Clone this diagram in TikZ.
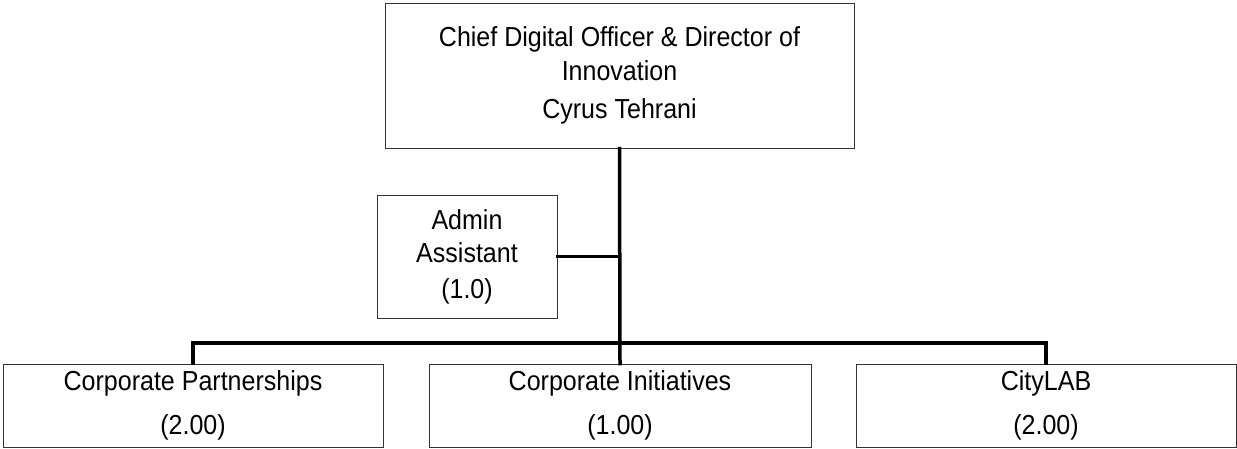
\documentclass[tikz,border=0pt]{standalone}
\usepackage{fontspec}
\setmainfont[FakeStretch=0.91]{Liberation Sans}
\usepackage{tikz}
\usetikzlibrary{calc}

\begin{document}
\begin{tikzpicture}[
		x=1pt, y=-1pt,
		box/.style = {rectangle, draw=black!80, line width=1pt, fill=white, align=center, inner sep=0pt, font=\fontsize{27.5}{33}\selectfont},
		link/.style = {line width=3.5pt, line cap=rect}
		]
		\useasboundingbox (0, 0) rectangle (1237, 448);
		
		%Nodes
		\node[box, minimum width=469, minimum height=145]	(cdo)	at	(619.5, 75.5)	{Chief Digital Officer \& Director of\\[1pt] Innovation\\[5pt] Cyrus Tehrani};
		\node[box, minimum width=180, minimum height=123]	(admin)	at	(467, 256.5)	{Admin\\ Assistant\\[3pt] (1.0)};
		\node[box, minimum width=380, minimum height=83]	(part)	at	(193, 405.5)	{Corporate Partnerships\\[11pt] (2.00)};
		\node[box, minimum width=382, minimum height=83]	(init)	at	(620, 405.5)	{Corporate Initiatives\\[11pt] (1.00)};
		\node[box, minimum width=380, minimum height=83]	(lab)	at	(1046, 405.5)	{CityLAB\\[11pt] (2.00)};
		\coordinate	(bus)	at	(620, 343);
		
		%Lines
		\draw[link]	(cdo.south)	to	(init.north);
		\draw[link]	(admin.east)	to	(admin.east -| cdo.south);
		\draw[link]	(part.north)	|-	(bus)	-|	(lab.north);
	\end{tikzpicture}
\end{document}
